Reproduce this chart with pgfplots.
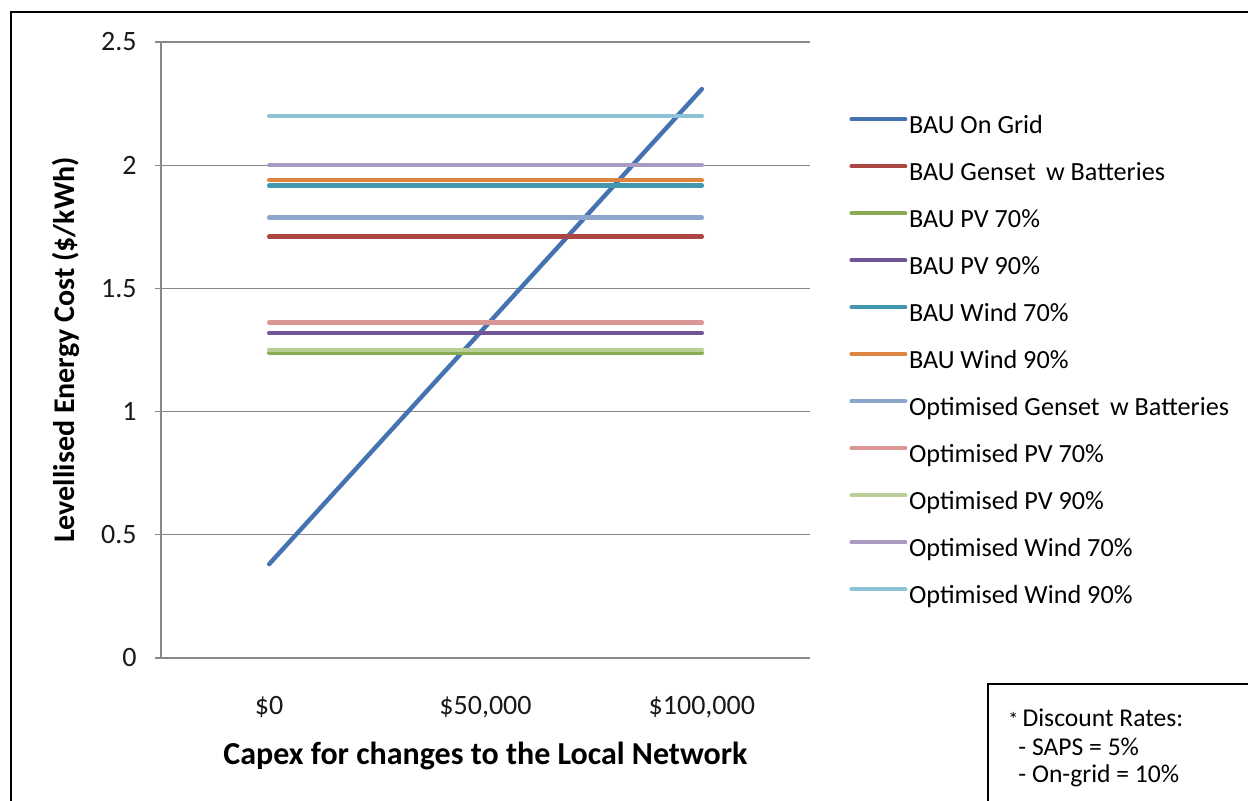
\documentclass[border=0pt]{standalone}
\usepackage{fontspec}
\setmainfont{Carlito}
\usepackage{pgfplots}
\pgfplotsset{compat=1.18}
\definecolor{c1}{HTML}{4572B0}
\definecolor{c2}{HTML}{AC4643}
\definecolor{c3}{HTML}{8AAA52}
\definecolor{c4}{HTML}{705696}
\definecolor{c5}{HTML}{4198AF}
\definecolor{c6}{HTML}{DD8443}
\definecolor{c7}{HTML}{8CA6CC}
\definecolor{c8}{HTML}{D99694}
\definecolor{c9}{HTML}{B7CF96}
\definecolor{c10}{HTML}{A89AC1}
\definecolor{c11}{HTML}{8CC3D6}
\definecolor{gridc}{HTML}{888888}
\begin{document}
\begin{tikzpicture}
\useasboundingbox (0,0) rectangle (624pt,400pt);
% outer frame
\draw[line width=1.2pt] (5.5pt,-2pt) -- (5.5pt,394pt) -- (626pt,394pt);
\begin{axis}[
  at={(80.5pt,71pt)}, anchor=south west,
  scale only axis, width=324.5pt, height=308pt,
  xmin=-0.5, xmax=2.5, ymin=0, ymax=2.5,
  axis lines*=left,
  axis line style={gridc, line width=0.6pt},
  xtick={0,1,2},
  xticklabels={\$0,\$50{,}000,\$100{,}000},
  ytick={0,0.5,1,1.5,2,2.5},
  yticklabels={0,0.5,1,1.5,2,2.5},
  extra x ticks={-0.5,0.5,1.5,2.5},
  extra x tick labels={},
  extra x tick style={major tick length=3pt, tick align=outside, xmajorgrids=false},
  xtick style={draw=none},
  ytick style={gridc, line width=0.6pt},
  major tick length=3pt,
  tick align=outside,
  ymajorgrids=true,
  grid style={gridc, line width=0.6pt},
  tick label style={font=\fontsize{14}{17}\selectfont, text=black!90},
  xticklabel style={anchor=center, yshift=-21.5pt},
  yticklabel style={anchor=east, inner sep=0pt, xshift=-9pt},
  ylabel={Levellised Energy Cost (\$/kWh)},
  xlabel={Capex for changes to the Local Network},
  ylabel style={font=\fontsize{15}{18}\selectfont\bfseries, at={(axis description cs:-0.1464,0.5)}, anchor=center, rotate=0},
  xlabel style={font=\fontsize{16}{19}\selectfont\bfseries, at={(axis description cs:0.5,-0.159)}, anchor=center},
  legend style={at={(axis description cs:1.0601,0.479)}, anchor=west, draw=none,
    fill=none, inner sep=0pt, font=\fontsize{13.1}{15}\selectfont,
    nodes={inner sep=0pt, text height=9pt, text depth=3pt},
    row sep=11.5pt, column sep=0.8pt},
  legend cell align=left,
  legend image code/.code={\draw[#1, line width=2pt] (0pt,0.9ex) -- (27pt,0.9ex);},
  every axis plot/.append style={line width=2.2pt, line cap=round},
]
\addplot[c1] coordinates {(0,0.381) (1,1.345) (2,2.309)};
\addlegendentry{BAU On Grid}
\addplot[c2] coordinates {(0,1.71) (1,1.71) (2,1.71)};
\addlegendentry{BAU Genset\, w Batteries}
\addplot[c3] coordinates {(0,1.239) (1,1.239) (2,1.239)};
\addlegendentry{BAU PV 70\%}
\addplot[c4] coordinates {(0,1.319) (1,1.319) (2,1.319)};
\addlegendentry{BAU PV 90\%}
\addplot[c5] coordinates {(0,1.917) (1,1.917) (2,1.917)};
\addlegendentry{BAU Wind 70\%}
\addplot[c6] coordinates {(0,1.939) (1,1.939) (2,1.939)};
\addlegendentry{BAU Wind 90\%}
\addplot[c7] coordinates {(0,1.787) (1,1.787) (2,1.787)};
\addlegendentry{Optimised Genset\, w Batteries}
\addplot[c8] coordinates {(0,1.361) (1,1.361) (2,1.361)};
\addlegendentry{Optimised PV 70\%}
\addplot[c9] coordinates {(0,1.25) (1,1.25) (2,1.25)};
\addlegendentry{Optimised PV 90\%}
\addplot[c10] coordinates {(0,2.0) (1,2.0) (2,2.0)};
\addlegendentry{Optimised Wind 70\%}
\addplot[c11] coordinates {(0,2.2) (1,2.2) (2,2.2)};
\addlegendentry{Optimised Wind 90\%}
\end{axis}
% text box
\draw[line width=1.2pt] (494pt,-2pt) -- (494pt,58pt) -- (626pt,58pt);
\begin{scope}[every node/.style={anchor=base west, inner sep=0pt, font=\fontsize{12.8}{15}\selectfont}]
\node at (504pt,37pt) {{\fontsize{10}{12}\selectfont *}\,Discount Rates:};
\node at (504pt,22.5pt) {\ \,- SAPS = 5\%};
\node at (504pt,9pt) {\ \,- On-grid = 10\%};
\end{scope}
\end{tikzpicture}
\end{document}
